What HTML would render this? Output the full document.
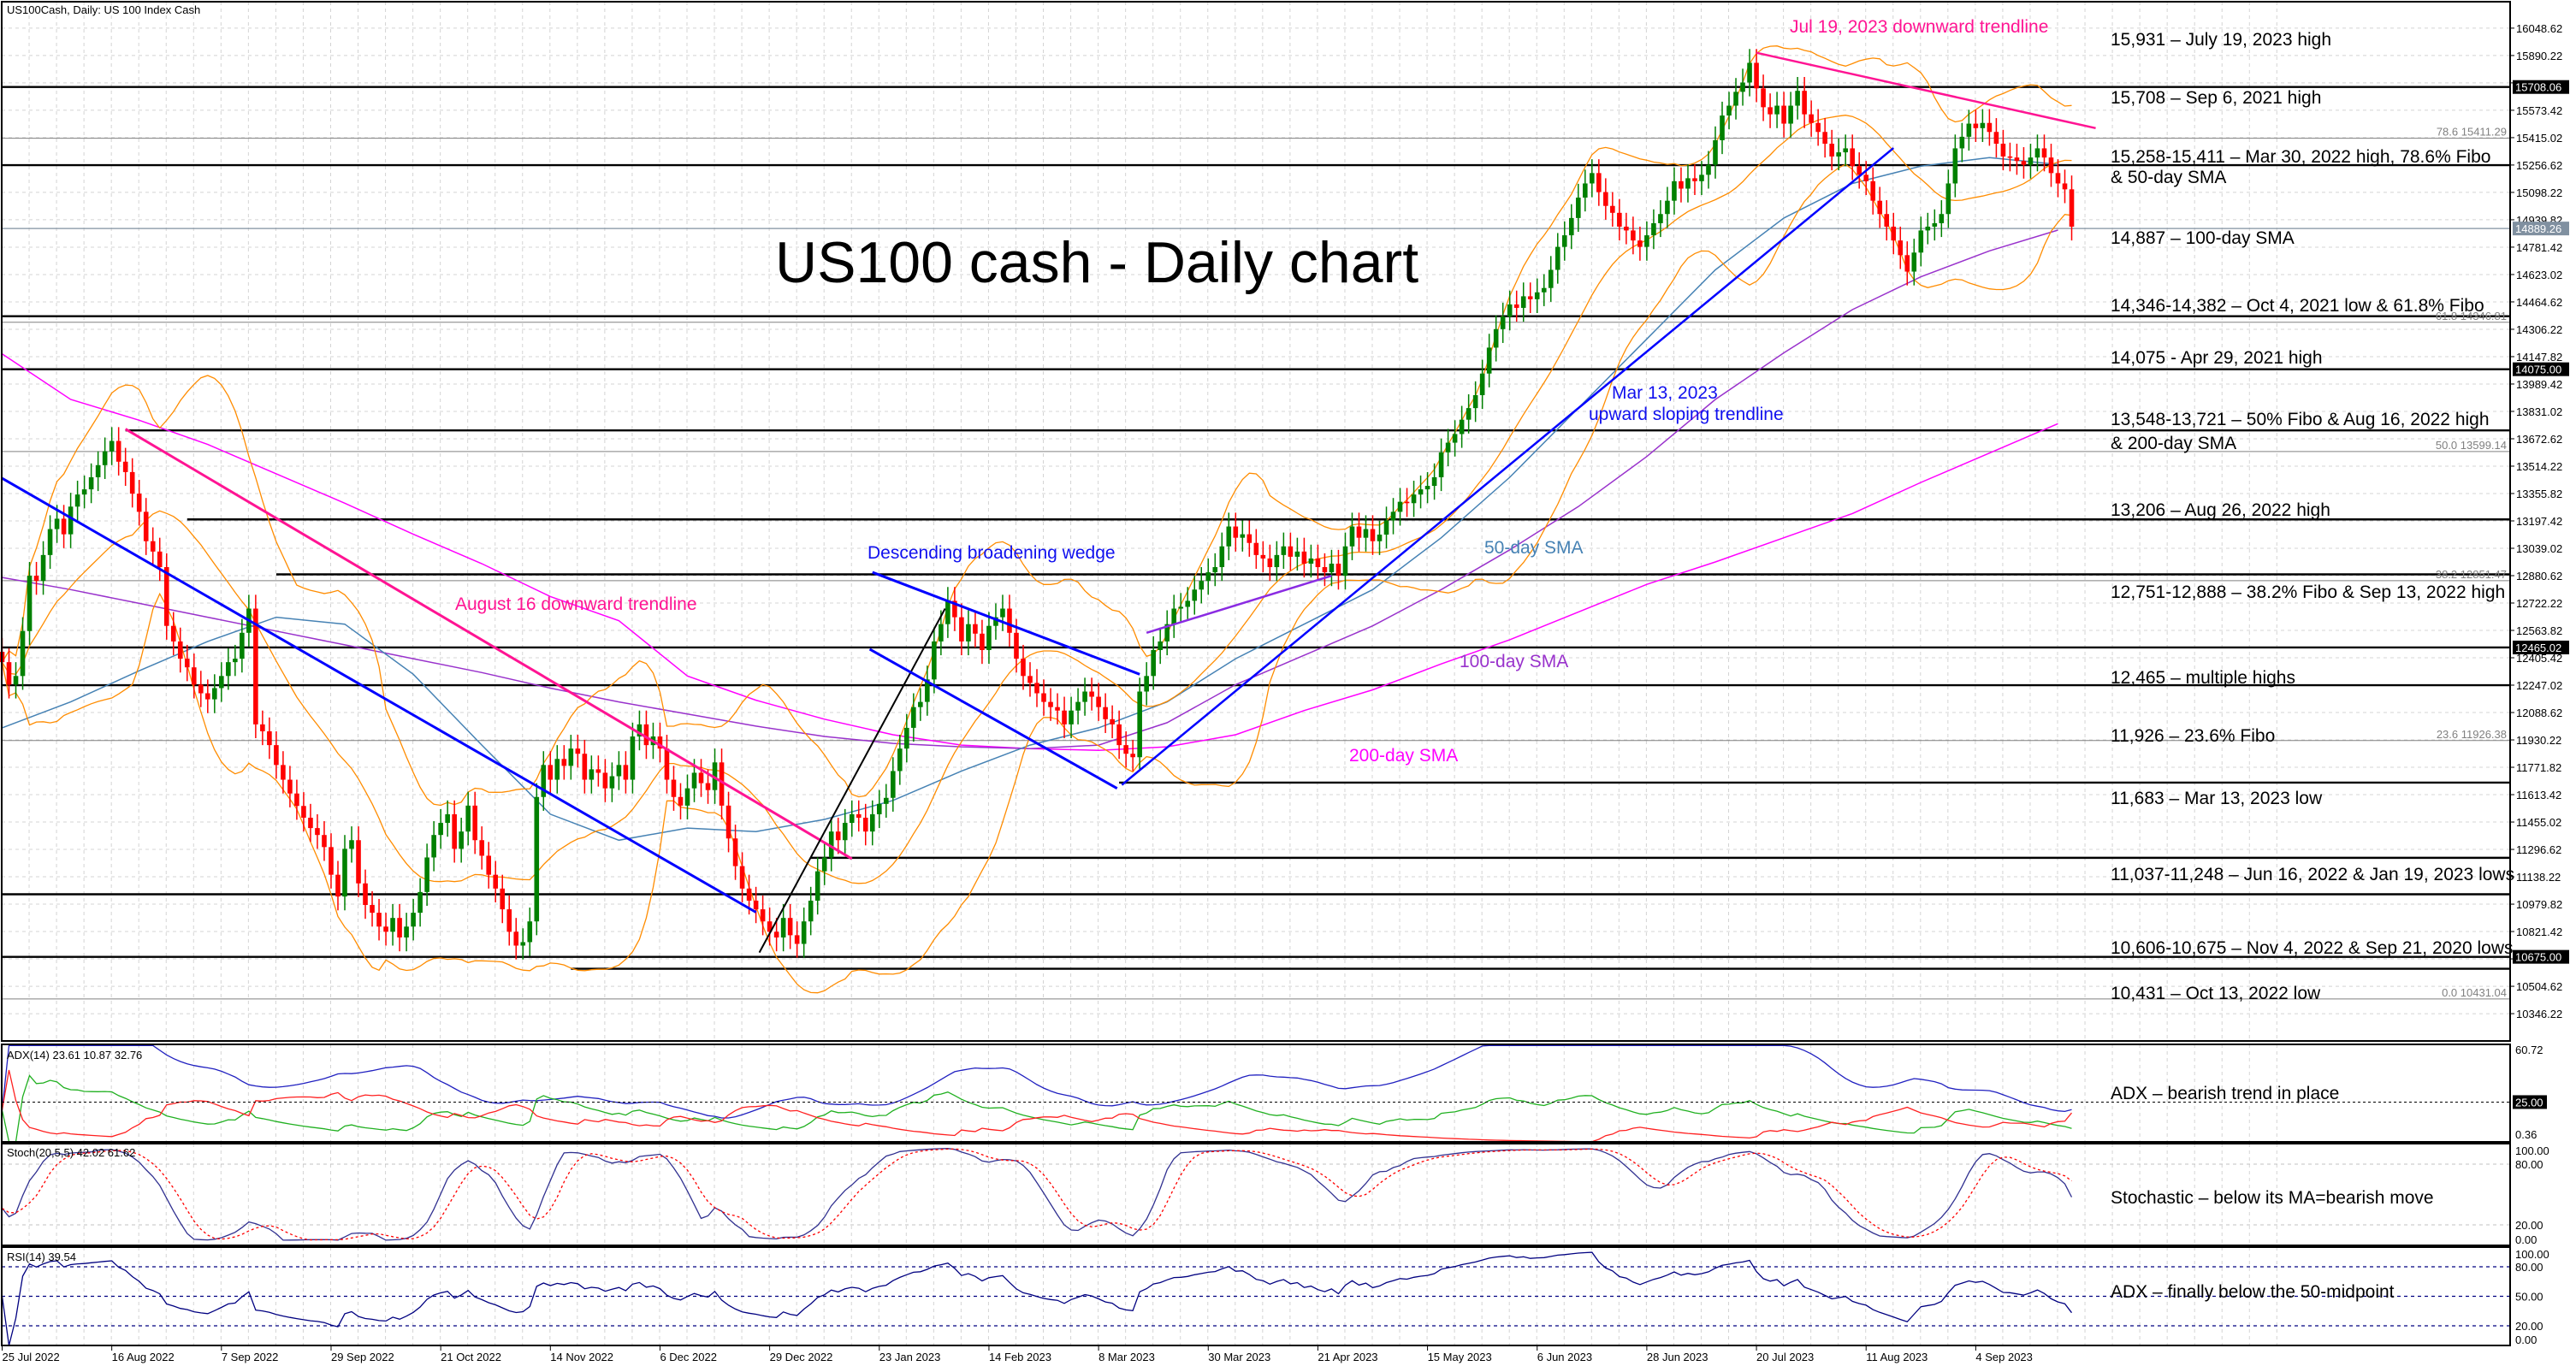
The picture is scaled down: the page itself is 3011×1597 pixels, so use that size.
<!DOCTYPE html>
<html><head><meta charset="utf-8">
<style>
html,body{margin:0;padding:0;background:#fff;}
svg{display:block;font-family:"Liberation Sans",Arial,sans-serif;}
</style></head>
<body>
<svg id="chart" xmlns="http://www.w3.org/2000/svg" width="3011" height="1597" viewBox="0 0 3011 1597">
<rect x="0" y="0" width="3011" height="1597" fill="#fff"/>
<g id="grid"></g>
<g id="levels"></g>
<g id="inds"></g>
<g id="candles"></g>
<g id="trend"></g>
<g id="panes"></g>
<g id="axes"></g>
<g id="notes">
<text x="8" y="16" font-size="13" fill="#000">US100Cash, Daily:  US 100 Index Cash</text>
<text x="906" y="330" font-size="68" fill="#000">US100 cash - Daily chart</text>
<text x="2092" y="38" font-size="21" fill="#ff1493">Jul 19, 2023 downward trendline</text>
<text x="532" y="713" font-size="21" fill="#ff1493">August 16  downward trendline</text>
<text x="1014" y="653" font-size="21" fill="#1010ee">Descending broadening wedge</text>
<text x="1884" y="466" font-size="21" fill="#1010ee">Mar 13, 2023</text>
<text x="1857" y="491" font-size="21" fill="#1010ee">upward sloping trendline</text>
<text x="1735" y="647" font-size="21" fill="#4682b4">50-day SMA</text>
<text x="1706" y="780" font-size="21" fill="#9932cc">100-day SMA</text>
<text x="1577" y="890" font-size="21" fill="#ff00ff">200-day SMA</text>
<g font-size="21" fill="#000">
<text x="2467" y="53">15,931 – July 19, 2023 high</text>
<text x="2467" y="121">15,708 – Sep 6, 2021 high</text>
<text x="2467" y="190">15,258-15,411 – Mar 30, 2022 high, 78.6% Fibo</text>
<text x="2467" y="214">&amp; 50-day SMA</text>
<text x="2467" y="285">14,887 – 100-day SMA</text>
<text x="2467" y="364">14,346-14,382 – Oct 4, 2021 low &amp; 61.8% Fibo</text>
<text x="2467" y="425">14,075 - Apr 29, 2021 high</text>
<text x="2467" y="497">13,548-13,721 – 50% Fibo &amp; Aug 16, 2022 high</text>
<text x="2467" y="525">&amp; 200-day SMA</text>
<text x="2467" y="603">13,206 – Aug 26, 2022 high</text>
<text x="2467" y="699">12,751-12,888 – 38.2% Fibo &amp; Sep 13, 2022 high</text>
<text x="2467" y="799">12,465 – multiple highs</text>
<text x="2467" y="867">11,926 – 23.6% Fibo</text>
<text x="2467" y="940">11,683 – Mar 13, 2023 low</text>
<text x="2467" y="1029">11,037-11,248 – Jun 16, 2022 &amp; Jan 19, 2023 lows</text>
<text x="2467" y="1115">10,606-10,675 – Nov 4, 2022 &amp; Sep 21, 2020 lows</text>
<text x="2467" y="1168">10,431 – Oct 13, 2022 low</text>
<text x="2467" y="1285">ADX – bearish trend in place</text>
<text x="2467" y="1407">Stochastic – below its MA=bearish move</text>
<text x="2467" y="1517">ADX – finally below the 50-midpoint</text>
</g>
<text x="8" y="1238" font-size="13" fill="#000">ADX(14) 23.61 10.87 32.76</text>
<text x="8" y="1352" font-size="13" fill="#000">Stoch(20,5,5) 42.02 61.62</text>
<text x="8" y="1474" font-size="13" fill="#000">RSI(14) 39.54</text>
</g>
</svg>
<script>
const closes = [
12380,12250,12300,12560,12880,12850,13000,13150,13210,13120,
13280,13350,13380,13450,13520,13600,13660,13540,13480,13355,
13250,13080,13020,12930,12590,12500,12400,12350,12250,12200,
12165,12230,12300,12380,12400,12550,12690,12020,11980,11900,
11785,11700,11620,11548,11480,11420,11380,11310,11150,11024,
11300,11350,11100,10975,10930,10850,10820,10900,10787,10850,
10930,11050,11250,11380,11450,11500,11300,11400,11550,11350,
11260,11150,11070,10950,10820,10740,10760,10880,11600,11785,
11700,11820,11780,11880,11850,11700,11760,11740,11650,11720,
11785,11700,11950,12020,11900,11950,11880,11700,11600,11550,
11650,11740,11680,11640,11800,11550,11360,11200,11070,11000,
10950,10880,10820,10787,10900,10800,10750,10880,11000,11170,
11250,11400,11350,11450,11500,11480,11400,11500,11560,11595,
11750,11880,12000,12120,12150,12280,12500,12600,12735,12640,
12500,12600,12545,12450,12590,12640,12690,12550,12400,12300,
12260,12200,12150,12120,12100,12020,12100,12150,12210,12180,
12120,12050,12020,11900,11850,11830,12210,12300,12450,12500,
12600,12690,12700,12735,12800,12850,12900,12930,13050,13165,
13100,13120,13070,13000,12980,12930,13000,13050,12990,13020,
12950,12980,12930,12900,12950,12880,13050,13165,13100,13150,
13080,13118,13200,13250,13308,13300,13350,13380,13400,13450,
13594,13650,13700,13783,13850,13925,14050,14200,14307,14380,
14450,14430,14497,14480,14520,14545,14650,14783,14850,14950,
15068,15150,15210,15100,15020,14980,14900,14878,14820,14783,
14850,14920,14973,15050,15163,15120,15180,15163,15200,15258,
15400,15543,15600,15680,15734,15848,15700,15591,15550,15600,
15496,15600,15686,15550,15500,15448,15380,15306,15330,15353,
15250,15200,15163,15050,14973,14900,14820,14735,14640,14750,
14878,14900,14920,14973,15150,15353,15420,15496,15470,15500,
15448,15380,15306,15300,15280,15258,15300,15353,15300,15210,
15150,15116,14900];
const sma50 = [12000,12150,12330,12500,12640,12600,12310,11900,11500,11350,11420,11400,11470,11580,11750,11900,12000,12150,12400,12600,12800,13100,13450,13850,14250,14650,14950,15150,15250,15300,15260];
const sma100 = [12870,12800,12720,12640,12560,12480,12400,12320,12230,12150,12080,12010,11950,11910,11890,11880,11900,12030,12250,12420,12590,12800,13030,13280,13570,13900,14170,14420,14610,14760,14880];
const sma200 = [14164,13900,13780,13640,13470,13300,13120,12950,12760,12620,12300,12160,12050,11960,11900,11880,11870,11890,11960,12100,12220,12370,12510,12670,12830,12960,13100,13240,13420,13590,13760];
const levels = [15708,15256,14382,14075,13721,13206,12888,12465,12247,11683,11248,11037,10675,10606];
const levelStart = [0,0,0,0,18,27,40,0,0,163,118,0,0,83];
const fibs = [15411.29,14346.81,13599.14,12851.47,11926.38,10431.04];
const fibNames = ['78.6','61.8','50.0','38.2','23.6','0.0'];
const dateLabels = ['25 Jul 2022','16 Aug 2022','7 Sep 2022','29 Sep 2022','21 Oct 2022','14 Nov 2022','6 Dec 2022','29 Dec 2022','23 Jan 2023','14 Feb 2023','8 Mar 2023','30 Mar 2023','21 Apr 2023','15 May 2023','6 Jun 2023','28 Jun 2023','20 Jul 2023','11 Aug 2023','4 Sep 2023'];
const priceTags = [15708.06,14889.26,14075.00,12465.02,10675.00];
// trendlines: [startIdx,startPrice,endIdx,endPrice]
const tlAug16 = [18,13729,124,11242];
const tlDown = [0,13444,110,10933];
const tlUpBlack = [110.5,10700,137.6,12690];
const tlWedgeTop = [127,12900,166,12310];
const tlWedgeBot = [126.6,12455,162.7,11650];
const tlPurple = [167,12550,194,12880];
const tlMar13 = [163.4,11670,276,15355];
const tlJul19 = [256,15906,305.5,15470];

const NS='http://www.w3.org/2000/svg';
function mk(tag,attrs,parent){const e=document.createElementNS(NS,tag);for(const k in attrs)e.setAttribute(k,attrs[k]);(parent||document.getElementById('chart')).appendChild(e);return e;}
const PL=2, PR=2934, MT=2, MB=1217;
const xOf=i=>2.5+8.01*i;
const yP=v=>32.9+(16048.62-v)*0.20205;
const yA=v=>1335-(v-0.36)*1.889;
const yS=v=>1455.7-v*1.183;
const yR=v=>1573-v*1.15;
const N=closes.length;
const W=80;
const opens=closes.map((c,i)=>i?closes[i-1]:c+60);
const highs=closes.map((c,i)=>Math.max(c,opens[i])+W);
const lows=closes.map((c,i)=>Math.min(c,opens[i])-W);

const grid=document.getElementById('grid');
const panes=[[MT,MB],[1221,1335],[1337,1456],[1458,1573]];
for(let i=4;i<N+30;i+=4){const x=2+8.01*i;if(x>PR)break;
 for(const p of panes){const l=mk('line',{x1:x,x2:x,y1:p[0],y2:p[1],stroke:'#d4d4d4','stroke-dasharray':'4,4','stroke-width':1},grid);
 
 }}
const ticks=[];for(let k=0;k<=36;k++)ticks.push(16048.62-k*158.4);
ticks.forEach(v=>{const l=mk('line',{x1:PL,x2:PR,y1:yP(v),y2:yP(v),stroke:'#d4d4d4','stroke-dasharray':'4,4'},grid);
 
 });

const lv=document.getElementById('levels');
levels.forEach((v,k)=>{const l=mk('line',{x1:Math.max(PL,xOf(levelStart[k])),x2:PR,y1:yP(v),y2:yP(v),stroke:'#000','stroke-width':2.4},lv);
 
 });
fibs.forEach((v,k)=>{const l=mk('line',{x1:PL,x2:PR,y1:yP(v),y2:yP(v),stroke:'#808080','stroke-width':1},lv);
 
 
 const t=mk('text',{x:PR-4,y:yP(v)-3,'font-size':13,fill:'#808080','text-anchor':'end'},lv);t.textContent=fibNames[k]+' '+v.toFixed(2);
 
 });
const cl=mk('line',{x1:PL,x2:PR,y1:yP(priceTags[1]),y2:yP(priceTags[1]),stroke:'#8090a0','stroke-width':1.2},lv);



const ind=document.getElementById('inds');
function pathFrom(vals,xf,yf){return vals.map((v,i)=>(i?'L':'M')+xf(i).toFixed(1)+','+yf(v).toFixed(1)).join('');}
const sampX=i=>xOf(Math.min(i*10,N-1));
[[sma200,'#ff00ff','sma200-line'],[sma100,'#9932cc','sma100-line'],[sma50,'#4682b4','sma50-line']].forEach(s=>{
 const p=mk('path',{d:pathFrom(s[0],sampX,yP),fill:'none',stroke:s[1],'stroke-width':1.5},ind);
 
 });
const bbU=[],bbM=[],bbL=[];
for(let i=0;i<N;i++){const s=closes.slice(Math.max(0,i-19),i+1);const m=s.reduce((a,b)=>a+b,0)/s.length;const sd=Math.sqrt(s.reduce((a,b)=>a+(b-m)*(b-m),0)/s.length);bbU.push(m+2*sd);bbM.push(m);bbL.push(m-2*sd);}
[[bbU,'bb-upper'],[bbM,'bb-middle'],[bbL,'bb-lower']].forEach(b=>{
 const p=mk('path',{d:pathFrom(b[0],xOf,yP),fill:'none',stroke:'#ff8c00','stroke-width':1.3},ind);
 
 });

const cg=document.getElementById('candles');
for(let i=0;i<N;i++){const up=closes[i]>=opens[i];const col=up?'#008000':'#ff0000';const x=xOf(i);
 const w=mk('line',{x1:x,x2:x,y1:yP(highs[i]),y2:yP(lows[i]),stroke:col,'stroke-width':1.5},cg);
 
 
 const t=yP(Math.max(opens[i],closes[i])),b=yP(Math.min(opens[i],closes[i]));
 const r=mk('rect',{x:x-2.8,y:t,width:5.6,height:Math.max(1.5,b-t),fill:col},cg);
 
 }

const tg=document.getElementById('trend');
[[tlAug16,'#ff1493',3,'aug16-downtrend'],[tlDown,'#0000ff',3,'descending-trendline'],[tlUpBlack,'#000',2,'black-uptrend'],[tlWedgeTop,'#0000ff',3,'wedge-upper'],[tlWedgeBot,'#0000ff',3,'wedge-lower'],[tlPurple,'#8a2be2',2.5,'purple-trendline'],[tlMar13,'#0000ff',2.5,'mar13-uptrend'],[tlJul19,'#ff1493',2.5,'jul19-downtrend']].forEach(t=>{
 const a=t[0];const l=mk('line',{x1:xOf(a[0]),y1:yP(a[1]),x2:xOf(a[2]),y2:yP(a[3]),stroke:t[1],'stroke-width':t[2]},tg);
 
 });

const pg=document.getElementById('panes');
const pdi=[],mdi=[],adx=[];let trS=0,pS=0,mS=0,ax=20;
for(let i=0;i<N;i++){if(i===0){pdi.push(20);mdi.push(20);adx.push(20);continue;}
 const tr=Math.max(highs[i]-lows[i],Math.abs(highs[i]-closes[i-1]),Math.abs(lows[i]-closes[i-1]));
 const um=highs[i]-highs[i-1],dm=lows[i-1]-lows[i];
 const pd=(um>dm&&um>0)?um:0,md=(dm>um&&dm>0)?dm:0;
 if(i<=14){trS+=tr;pS+=pd;mS+=md;}else{trS=trS-trS/14+tr;pS=pS-pS/14+pd;mS=mS-mS/14+md;}
 const p=100*pS/trS,m=100*mS/trS;pdi.push(p);mdi.push(m);
 const dx=(p+m)?100*Math.abs(p-m)/(p+m):0;ax=i<=14?(ax*(i-1)+dx)/i:(ax*13+dx)/14;adx.push(ax);}
[[adx,'#2020c0','adx-line'],[pdi,'#20b020','plus-di-line'],[mdi,'#ff2020','minus-di-line']].forEach(s=>{
 const p=mk('path',{d:pathFrom(s[0],xOf,v=>yA(Math.min(60,Math.max(0.4,v)))),fill:'none',stroke:s[1],'stroke-width':1.3},pg);
 
 });
const a25=mk('line',{x1:PL,x2:PR,y1:yA(25),y2:yA(25),stroke:'#000','stroke-dasharray':'3,3'},pg);


const kv=[],dv=[];
for(let i=0;i<N;i++){let num=0,den=0;for(let j=Math.max(0,i-4);j<=i;j++){const hh=Math.max(...highs.slice(Math.max(0,j-19),j+1));const ll=Math.min(...lows.slice(Math.max(0,j-19),j+1));num+=closes[j]-ll;den+=hh-ll;}
 kv.push(den?100*num/den:50);const s=kv.slice(Math.max(0,i-4));dv.push(s.reduce((a,b)=>a+b,0)/s.length);}
[80,20].forEach(v=>{const l=mk('line',{x1:PL,x2:PR,y1:yS(v),y2:yS(v),stroke:'#c0c0c0','stroke-dasharray':'4,4'},pg);
 
 });
const sk=mk('path',{d:pathFrom(kv,xOf,yS),fill:'none',stroke:'#303090','stroke-width':1.3},pg);


const sd=mk('path',{d:pathFrom(dv,xOf,yS),fill:'none',stroke:'#ff0000','stroke-width':1.3,'stroke-dasharray':'3,3'},pg);


const rsi=[];let ag=0,al=0;
for(let i=0;i<N;i++){if(i===0){rsi.push(50);continue;}const ch=closes[i]-closes[i-1];const g=Math.max(ch,0),lo=Math.max(-ch,0);
 if(i<=14){ag=(ag*(i-1)+g)/i;al=(al*(i-1)+lo)/i;}else{ag=(ag*13+g)/14;al=(al*13+lo)/14;}
 rsi.push(al?100-100/(1+ag/al):100);}
[80,50,20].forEach(v=>{const l=mk('line',{x1:PL,x2:PR,y1:yR(v),y2:yR(v),stroke:'#000080','stroke-dasharray':'4,4','stroke-width':1.2},pg);
 
 });
const rp=mk('path',{d:pathFrom(rsi,xOf,yR),fill:'none',stroke:'#000080','stroke-width':1.3},pg);



const ag2=document.getElementById('axes');
panes.forEach(p=>{const r=mk('rect',{x:PL,y:p[0],width:PR-PL,height:p[1]-p[0],fill:'none',stroke:'#000','stroke-width':2},ag2);
 
 });
const tagYs=priceTags.map(yP);
ticks.forEach(v=>{const y=yP(v);
 const tk=mk('line',{x1:PR,x2:PR+5,y1:y,y2:y,stroke:'#000'},ag2);
 
 
 if(tagYs.some(t=>Math.abs(t-y)<10))return;
 const t=mk('text',{x:PR+7,y:y+5,'font-size':13,fill:'#000'},ag2);t.textContent=v.toFixed(2);
 
 });
priceTags.forEach((v,k)=>{const y=yP(v);const r=mk('rect',{x:PR+3,y:y-8,width:66,height:16,fill:k===1?'#8090a0':'#000'},ag2);
 
 
 const t=mk('text',{x:PR+6,y:y+5,'font-size':13,fill:'#fff'},ag2);t.textContent=v.toFixed(2);
 
 });
[[60.72,1232],[0.36,1331]].forEach(a=>{const t=mk('text',{x:PR+6,y:a[1],'font-size':13,fill:'#000'},ag2);t.textContent=a[0].toFixed(2);
 
 });
const r25=mk('rect',{x:PR+3,y:yA(25)-8,width:40,height:16,fill:'#000'},ag2);


const t25=mk('text',{x:PR+6,y:yA(25)+5,'font-size':13,fill:'#fff'},ag2);t25.textContent='25.00';


[['100.00',1350],['80.00',yS(80)+5],['20.00',yS(20)+5],['0.00',1454],['100.00',1471],['80.00',yR(80)+5],['50.00',yR(50)+5],['20.00',yR(20)+5],['0.00',1571]].forEach(a=>{
 const t=mk('text',{x:PR+6,y:a[1],'font-size':13,fill:'#000'},ag2);t.textContent=a[0];
 
 });
dateLabels.forEach((d,k)=>{const x=xOf(k*16);
 const tk=mk('line',{x1:x,x2:x,y1:1573,y2:1579,stroke:'#000'},ag2);
 
 
 const t=mk('text',{x:x,y:1591,'font-size':13,fill:'#000'},ag2);t.textContent=d;
 
 });
</script>
</body></html>
